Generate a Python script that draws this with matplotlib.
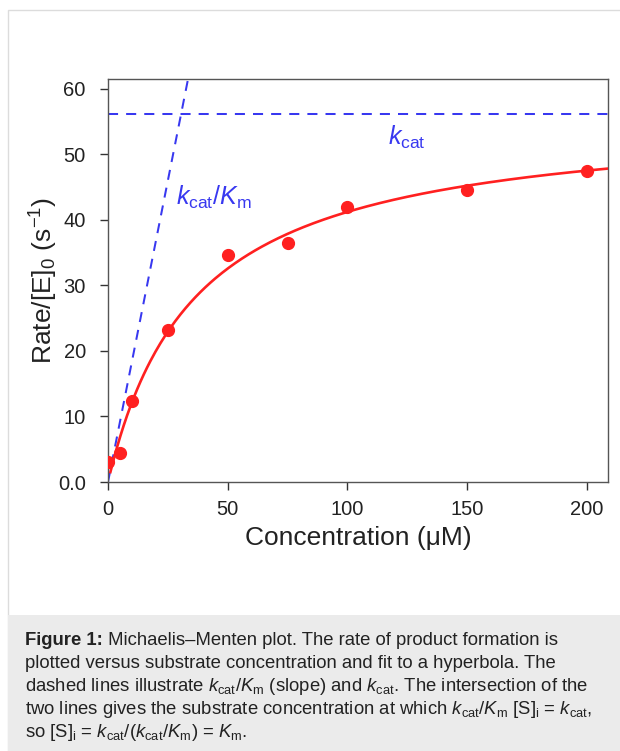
import numpy as np
import matplotlib
matplotlib.use("Agg")
import matplotlib.pyplot as plt
from matplotlib.patches import Rectangle

plt.rcParams["font.family"] = ["Liberation Sans", "DejaVu Sans"]
plt.rcParams["mathtext.fontset"] = "custom"
plt.rcParams["mathtext.rm"] = "Liberation Sans"
plt.rcParams["mathtext.it"] = "Liberation Sans:italic"
plt.rcParams["mathtext.bf"] = "Liberation Sans:bold"

# measured rates (s^-1) vs substrate concentration (uM)
conc = [0, 5, 10, 25, 50, 75, 100, 150, 200]
rate = [3.0, 4.4, 12.3, 23.2, 34.6, 36.4, 42.0, 44.6, 47.4]

# hyperbola fit + guide lines
kcat_fit, km_fit = 56.1, 36.1
kcat_line = 56.2
slope_line = 1.84          # kcat/Km drawn as the initial slope

xticks = [0, 50, 100, 150, 200]
yticks = [0, 10, 20, 30, 40, 50, 60]
yticklabels = ["0.0", "10", "20", "30", "40", "50", "60"]

caption_head = "Figure 1:"
caption = [
    " Michaelis–Menten plot. The rate of product formation is",
    "plotted versus substrate concentration and fit to a hyperbola. The",
    r"dashed lines illustrate $k_{\mathrm{cat}}/K_{\mathrm{m}}$ (slope) and $k_{\mathrm{cat}}$. The intersection of the",
    r"two lines gives the substrate concentration at which $k_{\mathrm{cat}}/K_{\mathrm{m}}$ [S]$_{\mathrm{i}}$ = $k_{\mathrm{cat}}$,",
    r"so [S]$_{\mathrm{i}}$ = $k_{\mathrm{cat}}/(k_{\mathrm{cat}}/K_{\mathrm{m}})$ = $K_{\mathrm{m}}$.",
]

W, H = 620, 751
fig = plt.figure(figsize=(W / 100, H / 100), dpi=100)

# outer frame and caption panel
fig.patches.append(Rectangle((8 / W, 0), 1.2, 1 - 10 / H, transform=fig.transFigure,
                             fc="white", ec="#dcdcdc", lw=1, zorder=-2))
fig.patches.append(Rectangle((8 / W, 0), 1.2, (H - 615) / H, transform=fig.transFigure,
                             fc="#ebebeb", ec="none", zorder=-1))

ax = fig.add_axes([108 / W, (H - 482) / H, 500 / W, 403 / H])
blue = "#3838f0"
red = "#ff2020"
dash = (0, (5, 4))

s = np.linspace(1, 209, 300)
ax.plot(s, kcat_fit * s / (km_fit + s), color=red, lw=1.9, zorder=3)
ax.plot(conc, rate, "o", color=red, ms=8.5, zorder=4)
ax.axhline(kcat_line, color=blue, lw=1.45, ls=dash)
ax.plot([0, 40], [0, 40 * slope_line], color=blue, lw=1.45, ls=dash)

ax.text(116.8, 51.5, r"$k_{\mathrm{cat}}$", color=blue, fontsize=18)
ax.text(28.5, 42.3, r"$k_{\mathrm{cat}}/K_{\mathrm{m}}$", color=blue, fontsize=18)

ax.set_xlim(0, 208.8)
ax.set_ylim(0, 61.5)
ax.set_xticks(xticks)
ax.set_yticks(yticks)
ax.set_yticklabels(yticklabels)
for sp in ax.spines.values():
    sp.set_color("#555555")
    sp.set_linewidth(1.0)
ax.tick_params(direction="out", length=6, width=1.0, color="#333333",
               labelsize=14.5, labelcolor="#222222")
ax.tick_params(axis="x", pad=7.3)
ax.tick_params(axis="y", pad=10)
ax.set_xlabel("Concentration (μM)", fontsize=19, color="#222222", labelpad=4.5)
ax.set_ylabel(r"Rate/[E]$_0$ (s$^{-1}$)", fontsize=19, color="#222222", labelpad=-1.5)

# caption: bold head then the rest on the same baseline
x0 = 25 / W
head = fig.text(x0, 1 - 645 / H, caption_head, fontsize=13.3, fontweight="bold",
                color="#222222", va="baseline", ha="left")
r = fig.canvas.get_renderer()
hx = head.get_window_extent(r).x1 / W
for i, line in enumerate(caption):
    fig.text(hx if i == 0 else x0, 1 - (645 + i * 23.1) / H, line, fontsize=13.3,
             color="#222222", va="baseline", ha="left")

fig.savefig("out.png", dpi=100)
